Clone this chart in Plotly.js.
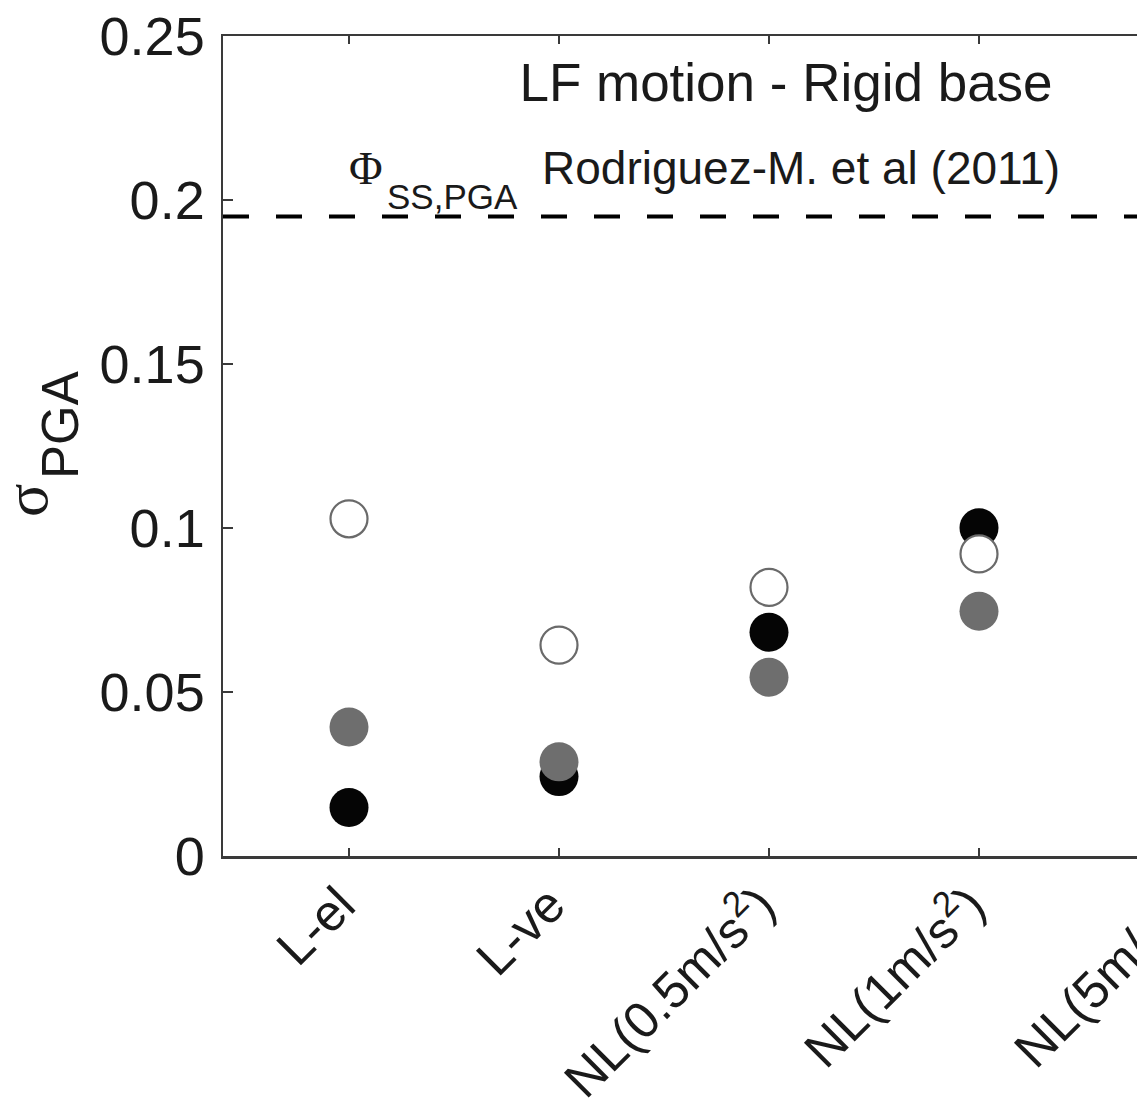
<!DOCTYPE html>
<html>
<head>
<meta charset="utf-8">
<script src="https://cdn.plot.ly/plotly-3.0.1.min.js"></script>
<style>
  html, body { margin: 0; padding: 0; overflow: hidden; background: #ffffff; }
  #chart { width: 1335px; height: 1113px; }
</style>
</head>
<body>
<div id="chart"></div>
<script>
// ---- data ----
const categories = ["L-el", "L-ve", "NL(0.5m/s<sup>2</sup>)", "NL(1m/s<sup>2</sup>)", "NL(5m/s<sup>2</sup>)"];
const blackValues = [0.0148, 0.0242, 0.0682, 0.1001, null];
const grayValues  = [0.0393, 0.0287, 0.0545, 0.0746, null];
const openValues  = [0.1028, 0.0643, 0.0819, 0.0921, null];
const referenceLevel = 0.195;   // Phi_SS,PGA Rodriguez-M. et al (2011)
const yTickValues = [0, 0.05, 0.1, 0.15, 0.2, 0.25];
const yTickLabels = ["0", "0.05", "0.1", "0.15", "0.2", "0.25"];

// ---- geometry helpers (pixel -> paper) ----
const L = 223, T = 36, B = 856, W = 1335, H = 1113;
const plotW = 1092, plotH = B - T;
function px(x) { return (x - L) / plotW; }
function py(y) { return (B - y) / plotH; }

const sans = "Liberation Sans, Arial, Helvetica, sans-serif";
const serif = "Liberation Serif, DejaVu Serif, Times New Roman, serif";
const textColor = "#1a1a1a";

const markerSize = 37;
const traces = [
  { x: categories, y: blackValues, type: "scatter", mode: "markers", name: "black",
    marker: { size: markerSize + 2, color: "#050505", line: { width: 0 } } },
  { x: categories, y: grayValues, type: "scatter", mode: "markers", name: "gray",
    marker: { size: markerSize + 2, color: "#6e6e6e", line: { width: 0 } } },
  { x: categories, y: openValues, type: "scatter", mode: "markers", name: "open",
    marker: { size: markerSize, color: "#ffffff", line: { width: 2.2, color: "#6a6a6a" } } }
];

const layout = {
  width: W, height: H,
  margin: { l: L, t: T, r: W - L - plotW, b: H - B },
  paper_bgcolor: "#ffffff", plot_bgcolor: "#ffffff",
  showlegend: false,
  font: { family: sans, color: textColor },
  title: {
    text: "LF motion - Rigid base",
    xref: "paper", yref: "paper",
    x: px(786), y: py(82), xanchor: "center", yanchor: "middle",
    font: { family: sans, size: 53, color: textColor }
  },
  xaxis: {
    type: "category",
    range: [-0.6, 4.6],
    showgrid: false, zeroline: false,
    showline: true, linecolor: "#3a3a3a", linewidth: 2.5, mirror: "ticks",
    ticks: "inside", ticklen: 8, tickwidth: 2, tickcolor: "#3a3a3a",
    tickangle: -45,
    ticklabelshift: -9,
    ticklabelstandoff: -4,
    tickfont: { family: sans, size: 51, color: textColor }
  },
  yaxis: {
    range: [0, 0.25],
    tickvals: yTickValues, ticktext: yTickLabels,
    showgrid: false, zeroline: false,
    showline: true, linecolor: "#3a3a3a", linewidth: 2.5, mirror: "ticks",
    ticks: "inside", ticklen: 10, tickwidth: 2, tickcolor: "#3a3a3a",
    ticklabelstandoff: 5,
    tickfont: { family: sans, size: 54, color: textColor }
  },
  shapes: [
    { type: "line", xref: "paper", x0: 0, x1: 1, yref: "y", y0: referenceLevel, y1: referenceLevel,
      line: { color: "#000000", width: 4, dash: "26px,27px" }, layer: "below" }
  ],
  annotations: [
    { text: "Φ", xref: "paper", yref: "paper", x: px(366), y: py(168),
      xanchor: "center", yanchor: "middle", showarrow: false,
      font: { family: serif, size: 46, color: textColor } },
    { text: "SS,PGA", xref: "paper", yref: "paper", x: px(452), y: py(197),
      xanchor: "center", yanchor: "middle", showarrow: false,
      font: { family: sans, size: 35, color: textColor } },
    { text: "Rodriguez-M. et al (2011)", xref: "paper", yref: "paper", x: px(801), y: py(168),
      xanchor: "center", yanchor: "middle", showarrow: false,
      font: { family: sans, size: 46, color: textColor } },
    { text: "σ", xref: "paper", yref: "paper", x: px(26), y: py(501), textangle: -90,
      xanchor: "center", yanchor: "middle", showarrow: false,
      font: { family: serif, size: 62, color: textColor } },
    { text: "PGA", xref: "paper", yref: "paper", x: px(60), y: py(425), textangle: -90,
      xanchor: "center", yanchor: "middle", showarrow: false,
      font: { family: sans, size: 51, color: textColor } }
  ]
};

Plotly.newPlot("chart", traces, layout, { displayModeBar: false, staticPlot: true });
</script>
</body>
</html>
